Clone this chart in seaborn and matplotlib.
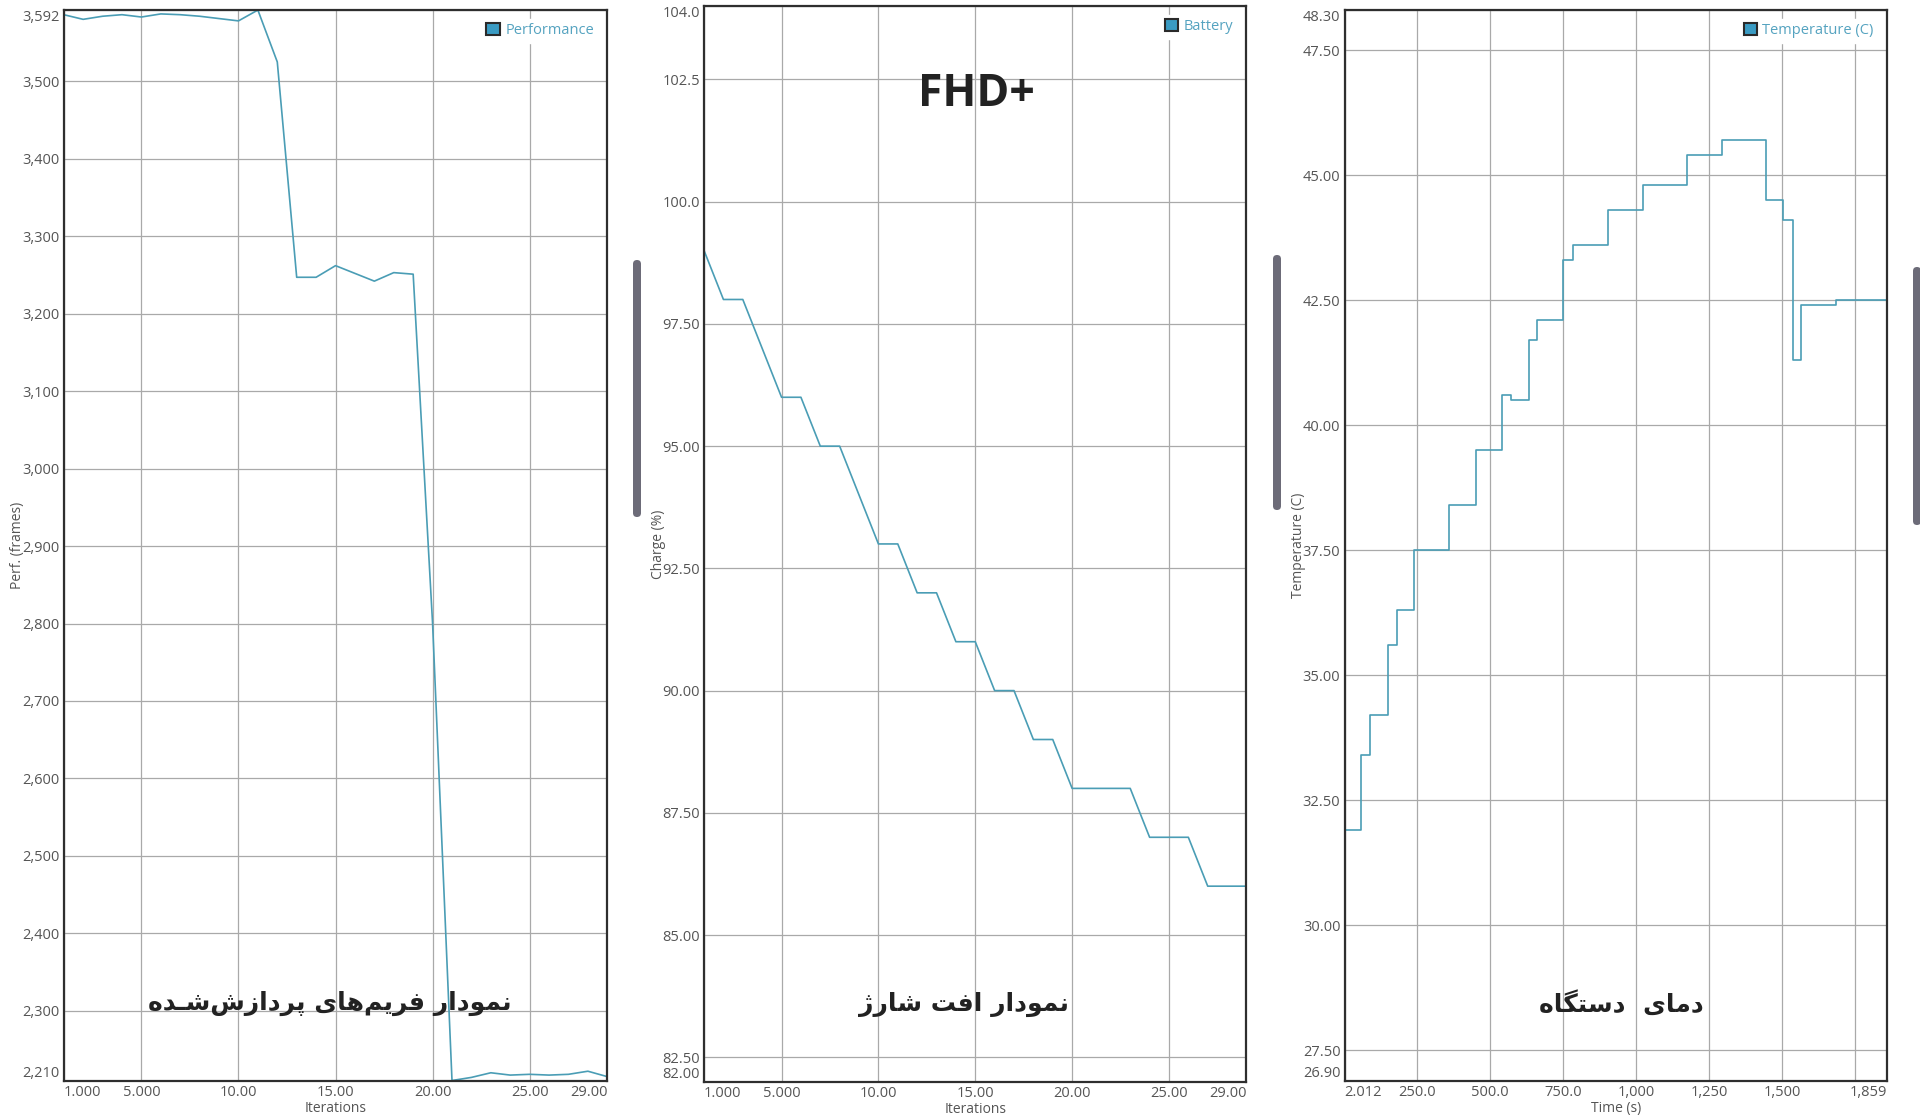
import seaborn as sns
import matplotlib.pyplot as plt
import matplotlib.patches as mpatches

sns.set_theme(style="white")
plt.rcParams['font.family'] = ['Open Sans', 'DejaVu Sans']

# ── Data ──────────────────────────────────────────────
iterations = list(range(1, 30))
perf_frames = [3586, 3580, 3584, 3586, 3583, 3587, 3586, 3584, 3581, 3578,
               3592, 3525, 3247, 3247, 3262, 3252, 3242, 3253, 3251, 2800,
               2210, 2214, 2220, 2217, 2218, 2217, 2218, 2222, 2215]
battery_charge = [99, 98, 98, 97, 96, 96, 95, 95, 94, 93,
                  93, 92, 92, 91, 91, 90, 90, 89, 89, 88,
                  88, 88, 88, 87, 87, 87, 86, 86, 86]
temp_time = [2.012, 59, 90, 151, 182, 241, 360, 451, 541, 572, 633, 662,
             750, 784, 903, 1024, 1173, 1294, 1445, 1504, 1536, 1566, 1686, 1859]
temp_celsius = [31.9, 33.4, 34.2, 35.6, 36.3, 37.5, 38.4, 39.5, 40.6, 40.5, 41.7, 42.1,
                43.3, 43.6, 44.3, 44.8, 45.4, 45.7, 44.5, 44.1, 41.3, 42.4, 42.5, 42.5]

iter_xticks = [1, 5, 10, 15, 20, 25, 29]
iter_xlabels = ['1.000', '5.000', '10.00', '15.00', '20.00', '25.00', '29.00']
perf_yticks = [2210, 2300, 2400, 2500, 2600, 2700, 2800, 2900, 3000,
               3100, 3200, 3300, 3400, 3500, 3592]
perf_ylabels = ['2,210', '2,300', '2,400', '2,500', '2,600', '2,700', '2,800', '2,900',
                '3,000', '3,100', '3,200', '3,300', '3,400', '3,500', '3,592']
batt_yticks = [82, 82.5, 85, 87.5, 90, 92.5, 95, 97.5, 100, 102.5, 104]
batt_ylabels = ['82.00', '82.50', '85.00', '87.50', '90.00', '92.50',
                '95.00', '97.50', '100.0', '102.5', '104.0']
time_xticks = [2.012, 250, 500, 750, 1000, 1250, 1500, 1750, 1859]
time_xlabels = ['2.012', '250.0', '500.0', '750.0', '1,000', '1,250', '1,500', '', '1,859']
temp_yticks = [26.9, 27.5, 30, 32.5, 35, 37.5, 40, 42.5, 45, 47.5, 48.3]
temp_ylabels = ['26.90', '27.50', '30.00', '32.50', '35.00', '37.50',
                '40.00', '42.50', '45.00', '47.50', '48.30']

title_perf = 'نمودار فریم‌های پردازش‌شـده'
title_batt = 'نمودار افت شارژ'
title_temp = 'دمای  دستگاه'

LINE = '#4a9db5'
LEGEND_FILL = '#3a9bc3'
LEGEND_TEXT = '#55a3c0'
TICK = '#555555'

# ── Minimal Persian shaping (matplotlib has no RTL layout) ──
FORMS = {  # isolated, final, initial, medial
    'ا': ('\uFE8D', '\uFE8E', None, None),
    'ت': ('\uFE95', '\uFE96', '\uFE97', '\uFE98'),
    'د': ('\uFEA9', '\uFEAA', None, None),
    'ر': ('\uFEAD', '\uFEAE', None, None),
    'ز': ('\uFEAF', '\uFEB0', None, None),
    'ژ': ('\uFB8A', '\uFB8B', None, None),
    'س': ('\uFEB1', '\uFEB2', '\uFEB3', '\uFEB4'),
    'ش': ('\uFEB5', '\uFEB6', '\uFEB7', '\uFEB8'),
    'ف': ('\uFED1', '\uFED2', '\uFED3', '\uFED4'),
    'گ': ('\uFB92', '\uFB93', '\uFB94', '\uFB95'),
    'م': ('\uFEE1', '\uFEE2', '\uFEE3', '\uFEE4'),
    'ن': ('\uFEE5', '\uFEE6', '\uFEE7', '\uFEE8'),
    'ه': ('\uFEE9', '\uFEEA', '\uFEEB', '\uFEEC'),
    'و': ('\uFEED', '\uFEEE', None, None),
    'ی': ('\uFBFC', '\uFBFD', '\uFBFE', '\uFBFF'),
    'پ': ('\uFB56', '\uFB57', '\uFB58', '\uFB59'),
}
TATWEEL = '\u0640'


def shape_fa(text):
    def joins_forward(ch):
        return ch == TATWEEL or (ch in FORMS and FORMS[ch][2] is not None)

    def joinable(ch):
        return ch == TATWEEL or ch in FORMS

    out = []
    for i, ch in enumerate(text):
        if ch == '\u200c':
            continue
        if ch not in FORMS:
            out.append(ch)
            continue
        prev = text[i - 1] if i > 0 else ''
        nxt = text[i + 1] if i + 1 < len(text) else ''
        jp = prev != '' and joins_forward(prev)
        jn = FORMS[ch][2] is not None and nxt != '' and joinable(nxt)
        iso, fin, ini, med = FORMS[ch]
        if jp and jn:
            out.append(med)
        elif jp:
            out.append(fin)
        elif jn:
            out.append(ini)
        else:
            out.append(iso)
    return ''.join(reversed(out))


def style_axis(ax, xticks, xlabels, yticks, ylabels, xlabel, ylabel, legend_label):
    ax.set_xlim(xticks[0], xticks[-1])
    ax.set_ylim(yticks[0], yticks[-1])
    ax.set_xticks(xticks)
    ax.set_xticklabels(xlabels)
    ax.set_yticks(yticks)
    ax.set_yticklabels(ylabels)
    ax.grid(True, color='#a9a9a9', linewidth=0.9)
    ax.tick_params(length=0, labelsize=10.5, labelcolor=TICK, pad=3)
    for s in ax.spines.values():
        s.set_visible(True)
        s.set_color('#2e2e2e')
        s.set_linewidth(1.6)
    xl = ax.get_xticklabels()
    xl[0].set_ha('left')
    xl[-1].set_ha('right')
    yl = ax.get_yticklabels()
    yl[0].set_va('bottom')
    yl[-1].set_va('top')
    ax.set_xlabel(xlabel, fontsize=10, color=TICK, labelpad=1)
    ax.set_ylabel(ylabel, fontsize=10, color=TICK)
    ax.yaxis.set_label_coords(-0.071, 0.5)
    handle = mpatches.Patch(facecolor=LEGEND_FILL, edgecolor='#2a2a2a',
                            linewidth=1.5, label=legend_label)
    ax.legend(handles=[handle], loc='upper right', frameon=True, facecolor='white',
              edgecolor='white', framealpha=1, fancybox=False, fontsize=10.5,
              labelcolor=LEGEND_TEXT, handlelength=0.9, handleheight=0.9,
              handletextpad=0.4, borderpad=0.3, borderaxespad=0.6)


fig = plt.figure(figsize=(19.2, 11.16), dpi=100)
ax1 = fig.add_axes([0.0332, 0.0318, 0.2831, 0.9592])
ax2 = fig.add_axes([0.3667, 0.0307, 0.2825, 0.9638])
ax3 = fig.add_axes([0.7003, 0.0318, 0.2825, 0.9592])

# ── 1. Performance ────────────────────────────────────
sns.lineplot(x=iterations, y=perf_frames, ax=ax1, color=LINE, linewidth=1.2,
             estimator=None)
style_axis(ax1, iter_xticks, iter_xlabels, perf_yticks, perf_ylabels,
           'Iterations', 'Perf. (frames)', 'Performance')
ax1.text(0.49, 0.072, shape_fa(title_perf), transform=ax1.transAxes, ha='center',
         va='center', fontsize=18, fontweight='bold', color='#222222',
         family='DejaVu Sans')

# ── 2. Battery ────────────────────────────────────────
sns.lineplot(x=iterations, y=battery_charge, ax=ax2, color=LINE, linewidth=1.2,
             estimator=None)
style_axis(ax2, iter_xticks, iter_xlabels, batt_yticks, batt_ylabels,
           'Iterations', 'Charge (%)', 'Battery')
ax2.text(0.48, 0.072, shape_fa(title_batt), transform=ax2.transAxes, ha='center',
         va='center', fontsize=18, fontweight='bold', color='#222222',
         family='DejaVu Sans')
ax2.text(0.502, 0.918, 'FHD+', transform=ax2.transAxes, ha='center', va='center',
         fontsize=32, fontweight='bold', color='#222222')

# ── 3. Temperature ────────────────────────────────────
sns.lineplot(x=temp_time, y=temp_celsius, ax=ax3, color=LINE, linewidth=1.2,
             estimator=None, drawstyle='steps-post')
style_axis(ax3, time_xticks, time_xlabels, temp_yticks, temp_ylabels,
           'Time (s)', 'Temperature (C)', 'Temperature (C)')
ax3.text(0.511, 0.072, shape_fa(title_temp), transform=ax3.transAxes, ha='center',
         va='center', fontsize=18, fontweight='bold', color='#222222',
         family='DejaVu Sans')

# dark scroll handles between the panels (screenshot decoration)
for x0, y0, y1 in [(6.33, 5.99, 8.56), (12.73, 6.06, 8.61), (19.13, 5.91, 8.49)]:
    fig.add_artist(mpatches.FancyBboxPatch(
        (x0, y0), 0.08, y1 - y0, boxstyle='round,pad=0,rounding_size=0.04',
        transform=fig.dpi_scale_trans, facecolor='#6c6b78', edgecolor='none'))

fig.savefig('out.png', dpi=100)
